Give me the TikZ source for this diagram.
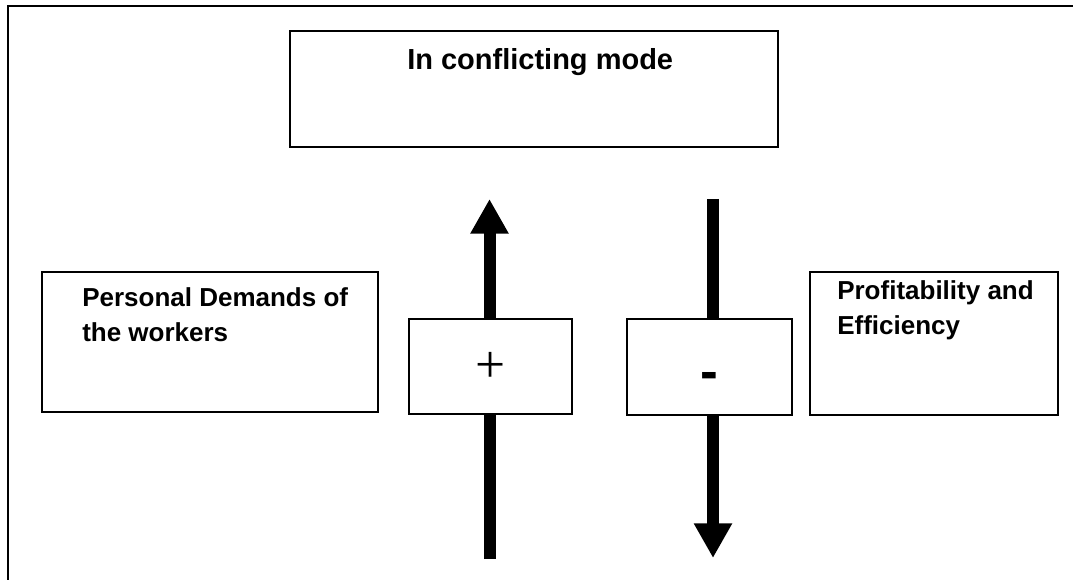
\documentclass[tikz,border=0pt]{standalone}
\usepackage{fontspec}
\setmainfont{Liberation Sans}
\newfontfamily\signfont{Liberation Serif}
\usetikzlibrary{arrows.meta}
\usepackage{tikz}

\begin{document}
\begin{tikzpicture}[x=0.75pt,y=-0.75pt,
  box/.style={draw,line width=1.1pt,fill=white,inner sep=0pt},
  boxtext/.style={anchor=base west,inner sep=0pt,align=left,font=\bfseries\fontsize{19.5}{26.25}\selectfont},
  shaft/.style={line width=9pt},
  bigarrow/.style={line width=9pt,-{Triangle[length=26pt,width=27pt]}}]
\useasboundingbox (0,0) rectangle (1073,580);
\draw[line width=1.5pt] (8,580) -- (8,6) -- (1073,6);
% boxes
\node[box,minimum width=366pt,minimum height=87pt] (conflict) at (534,89) {};
\node[box,minimum width=252pt,minimum height=105pt] (demands) at (210,342) {};
\node[box,minimum width=186pt,minimum height=107.25pt] (profit) at (934,343.5) {};
\node[box,minimum width=122.25pt,minimum height=71.25pt,font=\signfont\fontsize{40}{40}\selectfont] (plus) at (490.5,366.5) {\raisebox{-12pt}[0pt][0pt]{+}};
\node[box,minimum width=123.75pt,minimum height=72pt,font=\bfseries\fontsize{40}{40}\selectfont] (minus) at (709.5,367) {\raisebox{-17pt}[0pt][0pt]{-}};
% texts (base = last line)
\node[boxtext,font=\bfseries\fontsize{21.75}{26}\selectfont] (conflicttext) at (407,70) {In conflicting mode};
\node[boxtext] (demandstext) at (82,342) {Personal Demands of\\the workers};
\node[boxtext] (profittext) at (837,335) {Profitability and\\Efficiency};
% arrows
\coordinate (uptop) at (489.5,199);
\coordinate (upbot) at (489.5,559);
\coordinate (dntop) at (713,199);
\coordinate (dnbot) at (713,558);
\draw[shaft] (upbot) -- (upbot |- plus.south);
\draw[bigarrow] (uptop |- plus.north) -- (uptop);
\draw[shaft] (dntop) -- (dntop |- minus.north);
\draw[bigarrow] (dnbot |- minus.south) -- (dnbot);
\end{tikzpicture}
\end{document}
